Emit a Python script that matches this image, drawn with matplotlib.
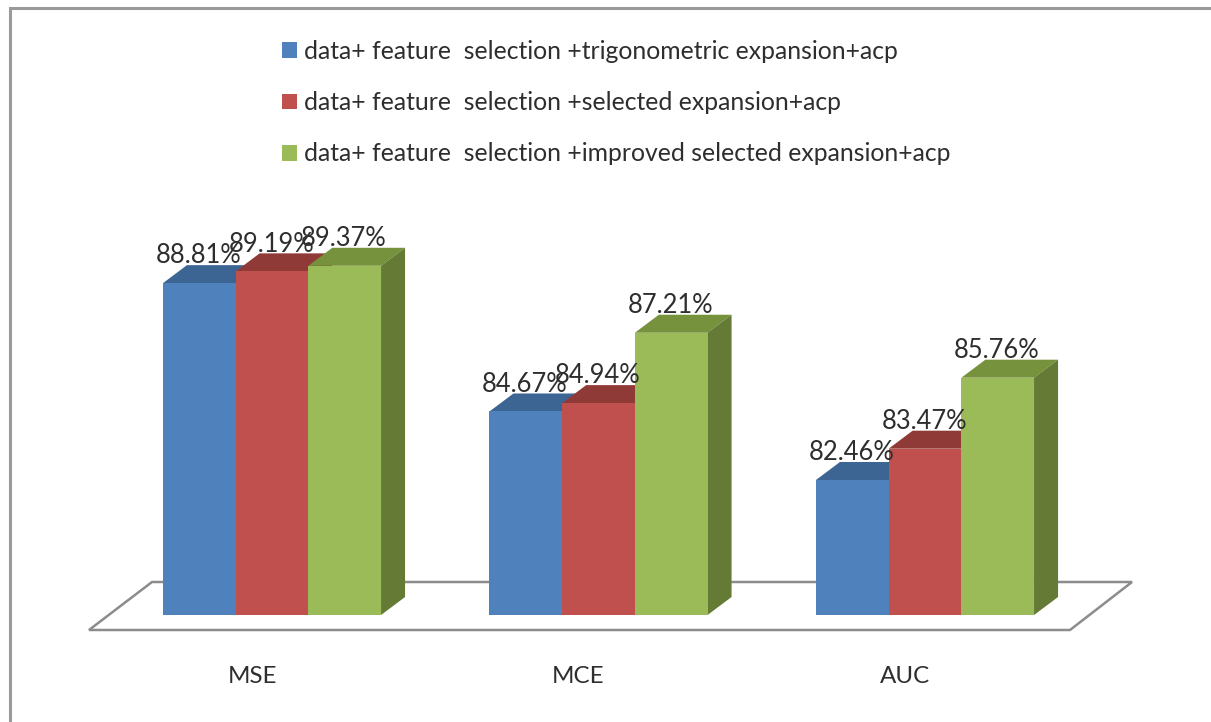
import numpy as np
import matplotlib
matplotlib.use("Agg")
import matplotlib.pyplot as plt
from matplotlib.patches import Polygon

categories = ["MSE", "MCE", "AUC"]
series_names = [
    "data+ feature  selection +trigonometric expansion+acp",
    "data+ feature  selection +selected expansion+acp",
    "data+ feature  selection +improved selected expansion+acp",
]
trig = [88.81, 84.67, 82.46]
selected = [89.19, 84.94, 83.47]
improved = [89.37, 87.21, 85.76]
series = [trig, selected, improved]

front = ["#4F81BD", "#C0504D", "#9BBB59"]
top = ["#3D6593", "#8F3A37", "#76923C"]
side = ["#375A85", "#7E3331", "#647A35"]
TXT = "#2E2E2E"
GRAY = "#8C8C8C"
W, H = 1211, 722
plt.rcParams["font.family"] = ["Lato", "DejaVu Sans"]

fig = plt.figure(figsize=(W / 100, H / 100), dpi=100, facecolor="white")
ax = fig.add_axes([0, 0, 1, 1])
ax.axis("off")

PX_X = 326.5
PX_Y = 31.0
CX0 = 272.0
BASE_PX = 615.0
BASE = 78.105
ax.set_xlim(-CX0 / PX_X, (W - CX0) / PX_X)
ax.set_ylim(BASE - (H - BASE_PX) / PX_Y, BASE + BASE_PX / PX_Y)

def fx(px):
    return px / W

def fy(py):
    return 1 - py / H

# frame and floor (chart furniture, in axes fractions)
ax.plot([fx(10), fx(10), fx(W)], [0, fy(8), fy(8)], transform=ax.transAxes,
        color="#9A9A9A", lw=2.2, solid_joinstyle="miter", zorder=1)
floor = [(89, 630), (1070, 630), (1132, 582), (152, 582)]
ax.add_patch(Polygon([(fx(a), fy(b)) for a, b in floor], closed=True, transform=ax.transAxes,
                     facecolor="white", edgecolor=GRAY, lw=1.8, zorder=1))

bw = 72.7 / PX_X
dx = 24.0 / PX_X
dy = 18.0 / PX_Y
x = np.arange(len(categories))
for k, vals in enumerate(series):
    xs = x + (k - 1) * bw
    z = 3 + k
    bars = ax.bar(xs, np.array(vals) - BASE, bw, bottom=BASE, color=front[k],
                  label=series_names[k], zorder=z + 0.5, linewidth=0)
    for xc, v in zip(xs, vals):
        l, r = xc - bw / 2, xc + bw / 2
        ax.add_patch(Polygon([(l, v), (r, v), (r + dx, v + dy), (l + dx, v + dy)],
                             facecolor=top[k], edgecolor="none", zorder=z))
        ax.add_patch(Polygon([(r, BASE), (r, v), (r + dx, v + dy), (r + dx, BASE + dy)],
                             facecolor=side[k], edgecolor="none", zorder=z))
        ax.annotate(f"{v:.2f}%", (xc, v), xytext=(-0.5, 19.6), textcoords="offset points",
                    ha="center", va="center", fontsize=18.4, color=TXT, zorder=10)

for xc, c in zip(x, categories):
    ax.annotate(c, (xc, BASE), xytext=(-14.4, -44.4), textcoords="offset points",
                ha="center", va="center", fontsize=17.4, color=TXT, zorder=10)

leg = ax.legend(loc="upper left", bbox_to_anchor=(fx(282), fy(40)), frameon=False,
                fontsize=17.8, labelcolor=TXT, handlelength=0.6, handleheight=0.6,
                handletextpad=0.28, labelspacing=1.14, borderpad=0.0, borderaxespad=0.0)

fig.savefig("out.png", dpi=100)
